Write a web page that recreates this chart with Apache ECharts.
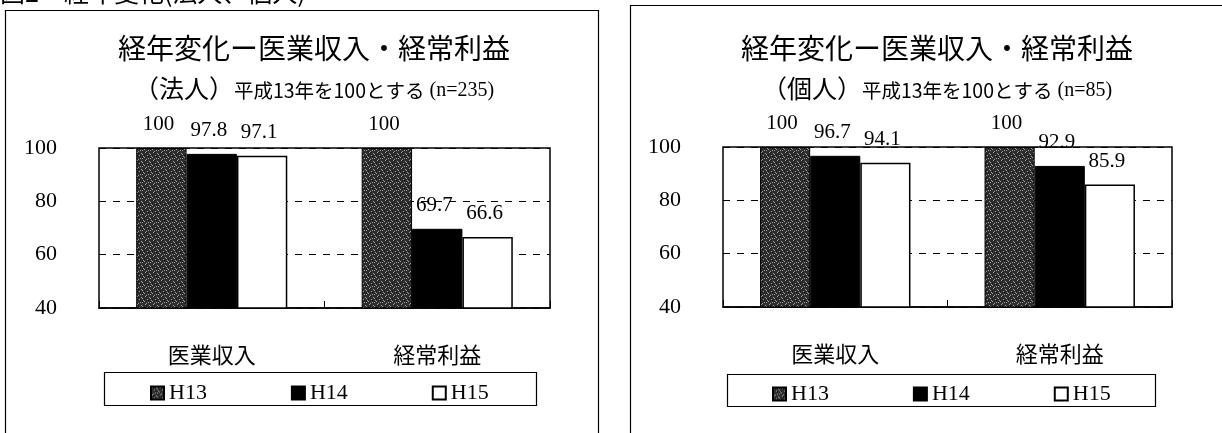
<!DOCTYPE html>
<html>
<head>
<meta charset="utf-8">
<script src="https://cdn.jsdelivr.net/npm/echarts@6/dist/echarts.min.js"></script>
<style>
html,body{margin:0;padding:0;background:#fff;}
#c{width:1222px;height:433px;}
</style>
</head>
<body>
<div id="c"></div>
<script>
// ---- data ----
const categories = ['医業収入', '経常利益'];
const seriesNames = ['H13', 'H14', 'H15'];
const houjinH13 = [100, 100];
const houjinH14 = [97.8, 69.7];
const houjinH15 = [97.1, 66.6];
const kojinH13 = [100, 100];
const kojinH14 = [96.7, 92.9];
const kojinH15 = [94.1, 85.9];
const yMin = 40, yMax = 100, yInterval = 20;
const mainTitle = '経年変化ー医業収入・経常利益';
const subLeft = ['（法人）', '平成13年を100とする', '(n=235)'];
const subRight = ['（個人）', '平成13年を100とする', '(n=85)'];
const caption = '図2　経年変化(法人、個人)';

// ---- style helpers ----
function makePattern() {
  const c = document.createElement('canvas');
  c.width = 8; c.height = 8;
  const ctx = c.getContext('2d');
  ctx.fillStyle = '#2e2e2e';
  ctx.fillRect(0, 0, 8, 8);
  const specks = [[1,0],[5,1],[3,3],[7,4],[0,5],[4,6],[2,7],[6,2],[6,6]];
  ctx.fillStyle = '#a0a0a0';
  specks.forEach(p => ctx.fillRect(p[0], p[1], 1, 1));
  const dark = [[2,1],[6,5],[0,3],[4,4]];
  ctx.fillStyle = '#111';
  dark.forEach(p => ctx.fillRect(p[0], p[1], 1, 1));
  return c;
}
const pat = makePattern();
const serif = 'Liberation Serif';
const cjk = 'Noto Sans CJK JP';

const chart = echarts.init(document.getElementById('c'), null, {renderer: 'canvas'});

const grids = [
  {left: 99, top: 148, width: 451, height: 160, show: true, borderColor: '#000', borderWidth: 1.5, backgroundColor: '#fff'},
  {left: 723, top: 147, width: 449, height: 160, show: true, borderColor: '#000', borderWidth: 1.5, backgroundColor: '#fff'}
];

function xAx(i) {
  return {
    type: 'category', gridIndex: i, data: categories,
    axisLine: {show: true, lineStyle: {color: '#000', width: 1.5}},
    axisTick: {show: true, inside: true, length: 7, lineStyle: {color: '#000'}},
    axisLabel: {color: '#000', fontFamily: cjk, fontSize: 22, margin: 36}
  };
}
function yAx(i) {
  return {
    type: 'value', gridIndex: i, min: yMin, max: yMax, interval: yInterval,
    axisLine: {show: false}, axisTick: {show: false},
    axisLabel: {color: '#000', fontFamily: serif, fontSize: 22, margin: 42},
    splitLine: {show: true, lineStyle: {color: '#000', type: [7, 7], width: 1}}
  };
}

const styles = [
  {color: {image: pat, repeat: 'repeat'}, borderColor: '#000', borderWidth: 1},
  {color: '#000', borderColor: '#000', borderWidth: 1},
  {color: '#fff', borderColor: '#000', borderWidth: 1.5}
];

function bar(name, data, gi, idx) {
  return {
    name: name, type: 'bar', xAxisIndex: gi, yAxisIndex: gi, data: data,
    barGap: '0%', barCategoryGap: '33%',
    itemStyle: styles[idx],
    label: {show: true, position: 'top', distance: 13, offset: [-3, 0], color: '#000',
            fontFamily: serif, fontSize: 21},
    emphasis: {disabled: true}, animation: false
  };
}

const series = [
  bar(seriesNames[0], houjinH13, 0, 0),
  bar(seriesNames[1], houjinH14, 0, 1),
  bar(seriesNames[2], houjinH15, 0, 2),
  bar(seriesNames[0], kojinH13, 1, 0),
  bar(seriesNames[1], kojinH14, 1, 1),
  bar(seriesNames[2], kojinH15, 1, 2)
];

function titleBlock(cx, sub) {
  return [
    {text: mainTitle, left: cx, top: 29, textAlign: 'center',
     textStyle: {fontFamily: cjk, fontSize: 28, fontWeight: 'normal', color: '#000'}},
    {text: '{a|' + sub[0] + '}{b|' + sub[1] + '}{c| ' + sub[2] + '}', left: cx, top: 71, textAlign: 'center',
     textStyle: {fontWeight: 'normal', rich: {
       a: {fontFamily: cjk, fontSize: 25, fontWeight: 'normal', color: '#000'},
       b: {fontFamily: cjk, fontSize: 19.5, fontWeight: 'normal', color: '#000', padding: [5, 0, 0, 0]},
       c: {fontFamily: serif, fontSize: 20, fontWeight: 'normal', color: '#000', padding: [5, 0, 0, 0]}
     }}}
  ];
}

function legendBlock(left, top) {
  return {
    data: seriesNames, left: left, top: top, orient: 'horizontal',
    icon: 'rect', itemWidth: 13, itemHeight: 13, itemGap: 84,
    selectedMode: false,
    textStyle: {fontFamily: serif, fontSize: 22, color: '#000', padding: [2, 0, 0, 0]}
  };
}

chart.setOption({
  animation: false,
  backgroundColor: '#fff',
  title: titleBlock(309, subLeft).concat(titleBlock(932, subRight)),
  grid: grids,
  xAxis: [xAx(0), xAx(1)],
  yAxis: [yAx(0), yAx(1)],
  legend: [legendBlock(145, 377), legendBlock(767, 378)],
  series: series,
  graphic: [
    {type: 'rect', shape: {x: 5.5, y: 10.5, width: 593, height: 440}, style: {fill: 'none', stroke: '#000', lineWidth: 1.2}, z: 0},
    {type: 'rect', shape: {x: 630.5, y: 5.5, width: 620, height: 440}, style: {fill: 'none', stroke: '#000', lineWidth: 1.2}, z: 0},
    {type: 'rect', shape: {x: 104.5, y: 372.5, width: 432, height: 33}, style: {fill: 'none', stroke: '#000', lineWidth: 1.2}, z: 0},
    {type: 'rect', shape: {x: 727.5, y: 374.5, width: 428, height: 32}, style: {fill: 'none', stroke: '#000', lineWidth: 1.2}, z: 0},
    {type: 'text', left: 0, top: -20, style: {text: caption, fontFamily: cjk, fontSize: 25, fill: '#000'}}
  ]
});
</script>
</body>
</html>
